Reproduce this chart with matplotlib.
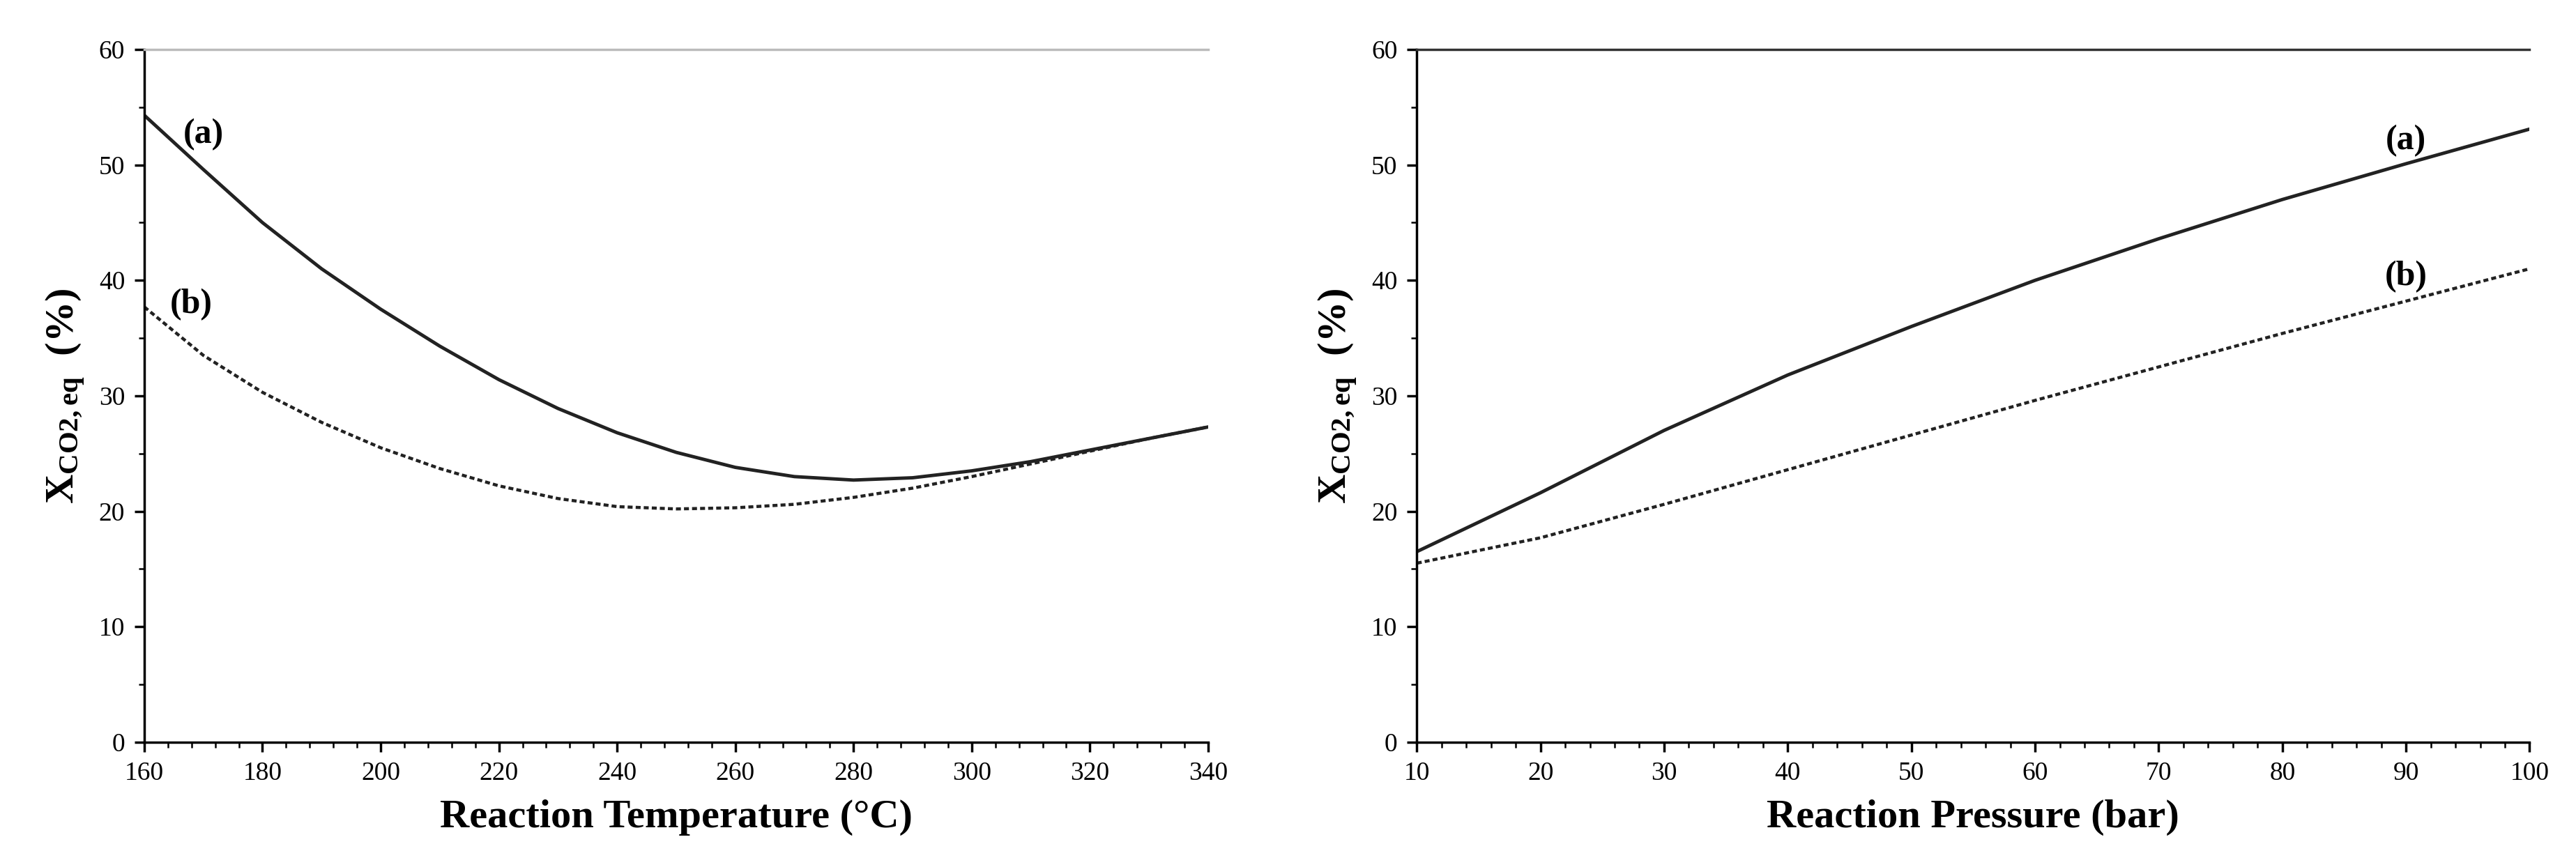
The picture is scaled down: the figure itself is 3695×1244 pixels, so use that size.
import matplotlib
matplotlib.use("Agg")
import matplotlib.pyplot as plt
from matplotlib.ticker import MultipleLocator

plt.rcParams['font.family'] = 'Liberation Serif'
plt.rcParams['mathtext.fontset'] = 'custom'
plt.rcParams['mathtext.rm'] = 'Liberation Serif:bold'
plt.rcParams['mathtext.bf'] = 'Liberation Serif:bold'
plt.rcParams['mathtext.it'] = 'Liberation Serif:bold'

temp = [160, 170, 180, 190, 200, 210, 220, 230, 240, 250, 260, 270, 280, 290, 300, 310, 320, 330, 340]
temp_a = [54.3, 49.6, 45.0, 41.0, 37.5, 34.3, 31.4, 28.9, 26.8, 25.1, 23.8, 23.0, 22.7, 22.9, 23.5, 24.3, 25.3, 26.3, 27.3]
temp_b = [37.7, 33.5, 30.3, 27.7, 25.5, 23.7, 22.2, 21.1, 20.4, 20.2, 20.3, 20.6, 21.2, 22.0, 23.0, 24.1, 25.2, 26.3, 27.3]
pres = [10, 20, 30, 40, 50, 60, 70, 80, 90, 100]
pres_a = [16.5, 21.6, 27.0, 31.8, 36.0, 40.0, 43.6, 47.0, 50.1, 53.1]
pres_b = [15.5, 17.7, 20.6, 23.6, 26.6, 29.6, 32.5, 35.4, 38.2, 41.0]

fig = plt.figure(figsize=(36.95, 12.44), dpi=100)
ax1 = fig.add_axes([0.056, 0.144, 0.413, 0.799])
ax2 = fig.add_axes([0.55, 0.144, 0.432, 0.799])

def style(ax, xmin, xmax, xmaj, xmin_step, xlabel, topcolor):
    ax.set_xlim(xmin, xmax)
    ax.set_ylim(0, 60)
    ax.xaxis.set_major_locator(MultipleLocator(xmaj))
    ax.xaxis.set_minor_locator(MultipleLocator(xmin_step))
    ax.yaxis.set_major_locator(MultipleLocator(10))
    ax.yaxis.set_minor_locator(MultipleLocator(5))
    ax.spines['right'].set_visible(False)
    ax.spines['top'].set_color(topcolor)
    for s in ('left', 'bottom', 'top'):
        ax.spines[s].set_linewidth(2.5)
    ax.tick_params(which='major', direction='out', length=10, width=2.5, labelsize=27, pad=10)
    ax.tick_params(which='minor', direction='out', length=6, width=1.8)
    ax.set_xlabel(xlabel, fontsize=42, fontweight='bold', labelpad=14)
    ax.set_ylabel(r'$\mathbf{X_{CO2,eq}}$  (%)', fontsize=42, fontweight='bold', labelpad=12)

ax1.plot(temp, temp_a, color='#222222', lw=3.5)
ax1.plot(temp, temp_b, color='#222222', lw=3.2, linestyle=(0, (1.6, 1.0)))
ax1.text(170, 52.6, '(a)', fontsize=36, fontweight='bold', ha='center', va='center')
ax1.text(168, 37.9, '(b)', fontsize=36, fontweight='bold', ha='center', va='center')
style(ax1, 160, 340, 20, 4, 'Reaction Temperature (°C)', '#bbbbbb')

ax2.plot(pres, pres_a, color='#222222', lw=3.5)
ax2.plot(pres, pres_b, color='#222222', lw=3.2, linestyle=(0, (1.6, 1.0)))
ax2.text(90, 52.1, '(a)', fontsize=36, fontweight='bold', ha='center', va='center')
ax2.text(90, 40.3, '(b)', fontsize=36, fontweight='bold', ha='center', va='center')
style(ax2, 10, 100, 10, 2, 'Reaction Pressure (bar)', '#333333')

fig.savefig('out.png', dpi=100)
